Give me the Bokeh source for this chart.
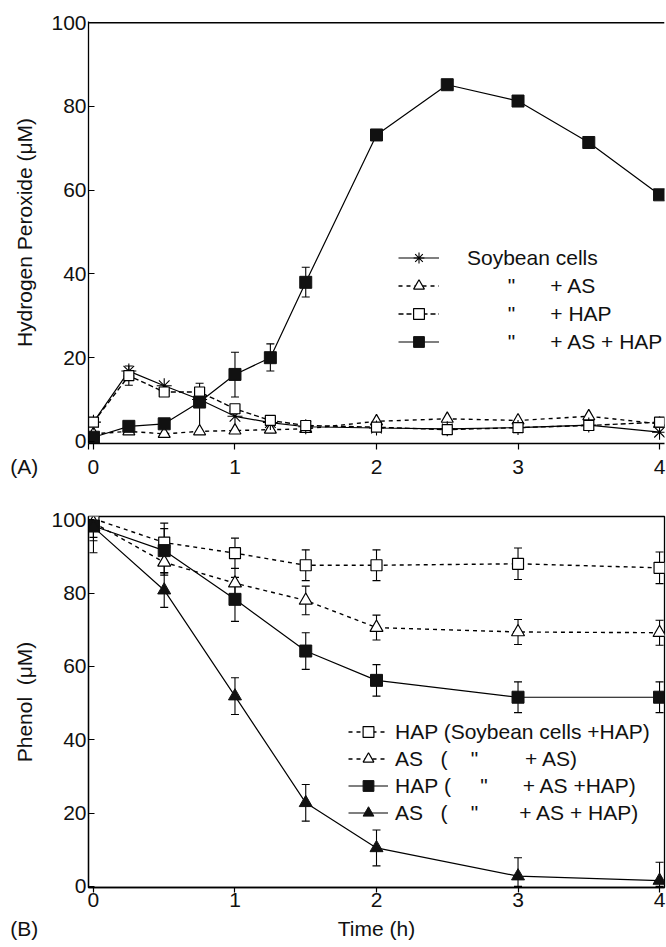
from bokeh.plotting import figure
from bokeh.models import (ColumnDataSource, Whisker, TeeHead, Legend, LegendItem,
                          Span, Range1d, FixedTicker, LinearAxis)
from bokeh.layouts import column
from bokeh.embed import file_html
from bokeh.resources import INLINE

NB = "\u00a0"
FONT = "Liberation Sans"
FS = "21px"

# ---------------- Panel A: hydrogen peroxide ----------------
time_a = [0, 0.25, 0.5, 0.75, 1, 1.25, 1.5, 2, 2.5, 3, 3.5, 4]
h2o2_cells = [4.6, 16.8, 13.3, 10.0, 6.0, 4.5, 3.5, 3.2, 3.0, 3.3, 3.9, 2.2]
h2o2_as = [1.8, 2.4, 1.8, 2.4, 2.6, 2.8, 3.0, 4.8, 5.4, 5.0, 6.0, 4.2]
h2o2_hap = [4.6, 15.7, 11.8, 11.8, 7.8, 5.0, 3.8, 3.4, 2.8, 3.3, 3.8, 4.6]
h2o2_as_hap = [1.0, 3.6, 4.2, 9.4, 16.0, 20.0, 38.0, 73.2, 85.2, 81.3, 71.4, 58.9]

err_as_hap_x = [0.75, 1, 1.25, 1.5]
err_as_hap_lower = [2.4, 10.6, 16.8, 34.5]
err_as_hap_upper = [13.9, 21.3, 23.3, 41.6]
err_hap_x = [0.25]
err_hap_lower = [13.4]
err_hap_upper = [18.0]

legend_a = [
    "Soybean cells",
    NB * 7 + '"' + NB * 6 + "+ AS",
    NB * 7 + '"' + NB * 6 + "+ HAP",
    NB * 7 + '"' + NB * 6 + "+ AS + HAP",
]

# ---------------- Panel B: phenol ----------------
time_b = [0, 0.5, 1, 1.5, 2, 3, 4]
phenol_hap = [100.3, 93.8, 90.9, 87.6, 87.6, 88.0, 86.9]
phenol_hap_sd = [3.0, 5.3, 4.1, 4.2, 4.2, 4.3, 4.3]
phenol_as = [99.2, 88.4, 82.7, 78.0, 70.6, 69.4, 69.2]
phenol_as_sd = [4.0, 3.5, 4.0, 3.9, 3.4, 3.4, 3.4]
phenol_hap_ashap = [98.3, 91.6, 78.3, 64.2, 56.2, 51.6, 51.6]
phenol_hap_ashap_sd = [4.0, 6.0, 6.0, 5.0, 4.3, 4.2, 4.2]
phenol_as_ashap = [98.0, 80.8, 51.9, 22.8, 10.5, 2.8, 1.6]
phenol_as_ashap_sd = [7.0, 4.7, 5.0, 5.0, 4.9, 5.0, 5.0]

legend_b = [
    "HAP (Soybean cells +HAP)",
    "AS" + NB * 3 + "(" + NB * 4 + '"' + NB * 8 + "+ AS)",
    "HAP" + NB + "(" + NB * 5 + '"' + NB * 6 + "+ AS +HAP)",
    "AS" + NB * 3 + "(" + NB * 4 + '"' + NB * 7 + "+ AS + HAP)",
]

panel_tags = ["(A)", "(B)"]
x_title = "Time (h)"
x_ticks = [0, 1, 2, 3, 4]
y_ticks = [0, 20, 40, 60, 80, 100]

X_START, X_END = -0.035, 4.035
TAG_PAD = NB * 22  # pushes the visible tag text to the left edge of the page


def style_axis(ax):
    ax.axis_line_color = "black"
    ax.axis_line_width = 1.3
    ax.major_tick_line_color = "black"
    ax.major_tick_line_width = 1.2
    ax.minor_tick_line_color = None
    ax.major_label_text_font = FONT
    ax.major_label_text_font_size = FS
    ax.major_label_text_color = "#111111"
    ax.axis_label_text_font = FONT
    ax.axis_label_text_font_size = FS
    ax.axis_label_text_font_style = "normal"
    ax.axis_label_text_color = "#111111"


def style_axes(p, ylabel):
    p.xgrid.visible = False
    p.ygrid.visible = False
    style_axis(p.xaxis[0])
    style_axis(p.yaxis[0])
    p.yaxis[0].ticker = FixedTicker(ticks=y_ticks)
    p.xaxis[0].major_tick_in = 0
    p.yaxis[0].major_tick_in = 6
    p.yaxis[0].major_tick_out = 0
    p.yaxis[0].major_label_standoff = 2
    p.yaxis[0].axis_label_standoff = 12
    p.yaxis[0].axis_label = ylabel


def whisker(src, lo, up):
    return Whisker(source=src, base="x", lower=lo, upper=up, line_color="black", line_width=1.1,
                   upper_head=TeeHead(size=8, line_color="black", line_width=1.1),
                   lower_head=TeeHead(size=8, line_color="black", line_width=1.1))


# ---------------- Figure A ----------------
pa = figure(width=666, height=490, output_backend="svg", toolbar_location=None,
            x_range=Range1d(X_START, X_END), y_range=Range1d(-0.5, 100.3),
            min_border_left=88, min_border_right=2, min_border_top=21,
            min_border_bottom=47, background_fill_color="white",
            border_fill_color="white")
pa.outline_line_color = None
style_axes(pa, "Hydrogen Peroxide (\u03bcM)")
pa.xaxis[0].ticker = FixedTicker(ticks=[X_START] + x_ticks)
pa.xaxis[0].major_label_overrides = {X_START: panel_tags[0] + TAG_PAD}
pa.xaxis[0].major_tick_out = 6
pa.xaxis[0].major_label_standoff = 5
pa.add_layout(Span(location=100, dimension="width", line_color="black", line_width=1.3))

src_a = ColumnDataSource(dict(x=time_a, cells=h2o2_cells, as_=h2o2_as,
                              hap=h2o2_hap, ashap=h2o2_as_hap))

pa.add_layout(whisker(ColumnDataSource(dict(x=err_as_hap_x, lo=err_as_hap_lower, up=err_as_hap_upper)), "lo", "up"))
pa.add_layout(whisker(ColumnDataSource(dict(x=err_hap_x, lo=err_hap_lower, up=err_hap_upper)), "lo", "up"))

l_cells = pa.line("x", "cells", source=src_a, line_color="black", line_width=1.2)
l_as = pa.line("x", "as_", source=src_a, line_color="black", line_width=1.4, line_dash="4 4")
l_hap = pa.line("x", "hap", source=src_a, line_color="black", line_width=1.4, line_dash="5 3")
l_ashap = pa.line("x", "ashap", source=src_a, line_color="black", line_width=1.2)
m_as = pa.scatter("x", "as_", source=src_a, marker="triangle", size=12,
                  fill_color="white", line_color="black", line_width=1.2)
m_cells = pa.scatter("x", "cells", source=src_a, marker="asterisk", size=15,
                     line_color="black", line_width=1.1)
m_hap = pa.scatter("x", "hap", source=src_a, marker="square", size=10,
                   fill_color="white", line_color="black", line_width=1.2)
m_ashap = pa.scatter("x", "ashap", source=src_a, marker="square", size=12,
                     fill_color="#111111", line_color="#111111")

leg_a = Legend(items=[
    LegendItem(label=legend_a[0], renderers=[l_cells, m_cells]),
    LegendItem(label=legend_a[1], renderers=[l_as, m_as]),
    LegendItem(label=legend_a[2], renderers=[l_hap, m_hap]),
    LegendItem(label=legend_a[3], renderers=[l_ashap, m_ashap]),
], location=(310, 88), glyph_width=41, glyph_height=27, spacing=1, padding=0,
    margin=0, label_standoff=28, label_text_font=FONT, label_text_font_size=FS,
    label_text_color="#111111", border_line_color=None, background_fill_alpha=0)
pa.add_layout(leg_a)

# ---------------- Figure B ----------------
pb = figure(width=666, height=456, output_backend="svg", toolbar_location=None,
            x_range=Range1d(X_START, X_END), y_range=Range1d(-0.3, 100.9),
            min_border_left=88, min_border_right=2, min_border_top=26,
            min_border_bottom=59, background_fill_color="white",
            border_fill_color="white")
pb.outline_line_color = "black"
pb.outline_line_width = 1.3
style_axes(pb, "Phenol" + NB + NB + "(\u03bcM)")
pb.xaxis[0].ticker = FixedTicker(ticks=x_ticks)
pb.xaxis[0].major_tick_out = 5
pb.xaxis[0].major_label_standoff = 0

# second row under the tick labels: panel tag and axis title on one line
mid_x = (x_ticks[0] + x_ticks[-1]) / 2
title_axis = LinearAxis(ticker=FixedTicker(ticks=[X_START, mid_x]),
                        major_label_overrides={X_START: panel_tags[1] + TAG_PAD,
                                               mid_x: x_title})
style_axis(title_axis)
title_axis.axis_line_color = None
title_axis.major_tick_line_color = None
title_axis.major_tick_in = 0
title_axis.major_tick_out = 0
title_axis.major_label_standoff = 7
pb.add_layout(title_axis, "below")

src_b = ColumnDataSource(dict(
    x=time_b,
    hap=phenol_hap, hap_lo=[v - e for v, e in zip(phenol_hap, phenol_hap_sd)],
    hap_up=[v + e for v, e in zip(phenol_hap, phenol_hap_sd)],
    as_=phenol_as, as_lo=[v - e for v, e in zip(phenol_as, phenol_as_sd)],
    as_up=[v + e for v, e in zip(phenol_as, phenol_as_sd)],
    hap2=phenol_hap_ashap, hap2_lo=[v - e for v, e in zip(phenol_hap_ashap, phenol_hap_ashap_sd)],
    hap2_up=[v + e for v, e in zip(phenol_hap_ashap, phenol_hap_ashap_sd)],
    as2=phenol_as_ashap, as2_lo=[max(v - e, 0) for v, e in zip(phenol_as_ashap, phenol_as_ashap_sd)],
    as2_up=[v + e for v, e in zip(phenol_as_ashap, phenol_as_ashap_sd)],
))
for lo, up in [("hap_lo", "hap_up"), ("as_lo", "as_up"), ("hap2_lo", "hap2_up"), ("as2_lo", "as2_up")]:
    pb.add_layout(whisker(src_b, lo, up))

lb_hap = pb.line("x", "hap", source=src_b, line_color="black", line_width=1.4, line_dash="4 4")
lb_as = pb.line("x", "as_", source=src_b, line_color="black", line_width=1.4, line_dash="4 4")
lb_hap2 = pb.line("x", "hap2", source=src_b, line_color="black", line_width=1.2)
lb_as2 = pb.line("x", "as2", source=src_b, line_color="black", line_width=1.2)
mb_hap = pb.scatter("x", "hap", source=src_b, marker="square", size=11,
                    fill_color="white", line_color="black", line_width=1.2)
mb_as = pb.scatter("x", "as_", source=src_b, marker="triangle", size=13,
                   fill_color="white", line_color="black", line_width=1.2)
mb_hap2 = pb.scatter("x", "hap2", source=src_b, marker="square", size=12,
                     fill_color="#111111", line_color="#111111")
mb_as2 = pb.scatter("x", "as2", source=src_b, marker="triangle", size=13,
                    fill_color="#111111", line_color="#111111")

leg_b = Legend(items=[
    LegendItem(label=legend_b[0], renderers=[lb_hap, mb_hap]),
    LegendItem(label=legend_b[1], renderers=[lb_as, mb_as]),
    LegendItem(label=legend_b[2], renderers=[lb_hap2, mb_hap2]),
    LegendItem(label=legend_b[3], renderers=[lb_as2, mb_as2]),
], location=(260, 61), glyph_width=40, glyph_height=27, spacing=0, padding=0,
    margin=0, label_standoff=7, label_text_font=FONT, label_text_font_size=FS,
    label_text_color="#111111", border_line_color=None, background_fill_alpha=0)
pb.add_layout(leg_b)

layout = column(pa, pb, spacing=0)
open("out.html", "w").write(file_html(layout, INLINE))
